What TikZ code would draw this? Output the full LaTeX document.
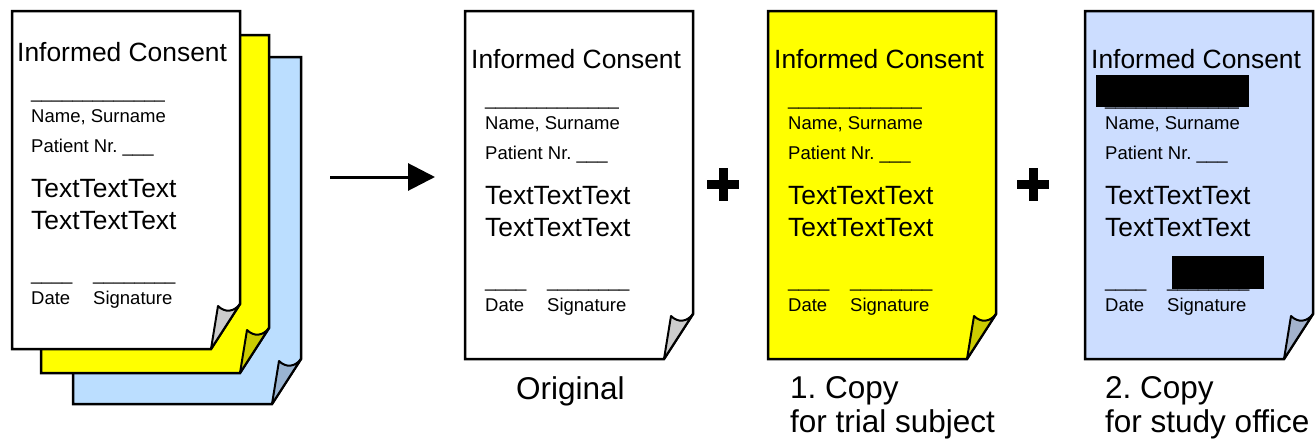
\documentclass[tikz,border=0pt]{standalone}
\usepackage{fontspec}
\setmainfont{Liberation Sans}
\usetikzlibrary{arrows.meta}
\frenchspacing
\definecolor{pageyellow}{RGB}{255,255,0}
\definecolor{stackblue}{RGB}{187,222,255}
\definecolor{midblue}{RGB}{204,221,255}
\definecolor{curlgray}{RGB}{204,204,204}
\definecolor{curlyellow}{RGB}{204,204,0}
\definecolor{curlblueA}{RGB}{153,180,210}
\definecolor{curlblueB}{RGB}{163,178,204}
\tikzset{
 pageline/.style={draw=black, line width=2.5pt, line join=miter},
 curlline/.style={draw=black, line width=2pt, line join=round},
 big/.style={anchor=base west, inner sep=0pt, font=\fontsize{26.4}{30}\selectfont},
 small/.style={anchor=base west, inner sep=0pt, font=\fontsize{18.5}{22}\selectfont},
 caption/.style={anchor=base west, inner sep=0pt, font=\fontsize{31.5}{36}\selectfont},
 redact/.style={fill=black},
 plusbar/.style={fill=black},
}
\newcommand\docpage[5]{%
 \begin{scope}[shift={(#1,#2)}]
  \filldraw[pageline, fill=#4] (0,0) -- (228,0) -- (228,#3-45) -- (199,#3) -- (0,#3) -- cycle;
  \filldraw[curlline, fill=#5] (228,#3-45) .. controls (222,#3-37) and (213,#3-36) .. (206,#3-43) -- (199,#3) -- cycle;
 \end{scope}}
\newcommand\doctext[3]{%
 \begin{scope}[shift={(#1,#2)}]
  \node[big] (#3title) at (6,57) {Informed Consent};
  \node[small] (#3nameline) at (20,94) {\_\_\_\_\_\_\_\_\_\_\_\_\_};
  \node[small] (#3name) at (20,118) {Name, Surname};
  \node[small] (#3patient) at (20,148) {Patient Nr. \_\_\_};
  \node[big] (#3textA) at (20,193) {TextTextText};
  \node[big] (#3textB) at (20,225) {TextTextText};
  \node[small] (#3dateline) at (20,276) {\_\_\_\_};
  \node[small] (#3signline) at (82,276) {\_\_\_\_\_\_\_\_};
  \node[small] (#3date) at (20,300) {Date};
  \node[small] (#3sign) at (82,300) {Signature};
 \end{scope}}
\begin{document}
\begin{tikzpicture}[x=1pt,y=-1pt]
\useasboundingbox (0,0) rectangle (1315,442);
% stack
\docpage{73}{57}{347}{stackblue}{curlblueA}
\docpage{41}{35}{338}{pageyellow}{curlyellow}
\docpage{12}{11}{338}{white}{curlgray}
\doctext{11}{4}{s}
% arrow
\coordinate (arrS) at (330,177);
\coordinate (arrE) at (435,177);
\draw[line width=3pt, -{Triangle[length=27pt,width=27pt]}] (arrS) -- (arrE);
% pages
\docpage{465}{11}{348}{white}{curlgray}
\doctext{465}{11}{o}
\docpage{768}{11}{348}{pageyellow}{curlyellow}
\doctext{768}{11}{c}
\docpage{1085}{11}{348}{midblue}{curlblueB}
\doctext{1085}{11}{b}
\fill[redact] (1096,75) rectangle (1249,107);
\fill[redact] (1172,256) rectangle (1264,289);
% plus signs
\fill[plusbar] (707,180) rectangle (739,189);
\fill[plusbar] (719,168) rectangle (728,201);
\fill[plusbar] (1017,180) rectangle (1049,189);
\fill[plusbar] (1029,168) rectangle (1038,201);
% captions
\node[caption] (capO) at (516,399) {Original};
\node[caption] (capCa) at (790,398) {1. Copy};
\node[caption] (capCb) at (790,432) {for trial subject};
\node[caption] (capBa) at (1105,398) {2. Copy};
\node[caption] (capBb) at (1105,432) {for study office};
\end{tikzpicture}
\end{document}
